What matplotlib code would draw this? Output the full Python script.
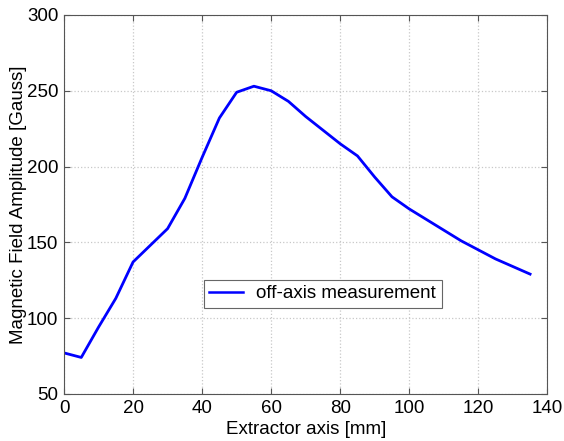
import matplotlib
matplotlib.use('Agg')
import matplotlib.pyplot as plt

# data
position_mm = [0, 5, 10, 15, 20, 25, 30, 35, 40, 45, 50, 55, 60, 65,
               70, 75, 80, 85, 90, 95, 100, 105, 110, 115, 120, 125, 130, 135]
field_gauss = [77, 74, 94, 113, 137, 148, 159, 179, 206, 232, 249, 253, 250, 243,
               233, 224, 215, 207, 193, 180, 172, 165, 158, 151, 145, 139, 134, 129]
x_ticks = [0, 20, 40, 60, 80, 100, 120, 140]
y_ticks = [50, 100, 150, 200, 250, 300]

plt.rcParams['font.family'] = ['Liberation Sans', 'DejaVu Sans']

fig = plt.figure(figsize=(5.64, 4.41), dpi=100)
ax = fig.add_axes([0.1135, 0.107, 0.857, 0.859])

ax.plot(position_mm, field_gauss, color='#0000ff', linewidth=2,
        label='off-axis measurement')

ax.set_xlim(0, 140)
ax.set_ylim(50, 300)
ax.set_xticks(x_ticks)
ax.set_yticks(y_ticks)
ax.grid(True, linestyle=':', color='#c8c8c8', linewidth=0.9)
ax.tick_params(direction='in', top=True, right=True, labelsize=13.5, length=4,
               color='#555555')
ax.tick_params(axis='x', pad=4.5)
ax.tick_params(axis='y', pad=4)
for s in ax.spines.values():
    s.set_color('#555555')

ax.set_xlabel('Extractor axis [mm]', fontsize=13.5, labelpad=2.5)
ax.set_ylabel('Magnetic Field Amplitude [Gauss]', fontsize=13.5, labelpad=0)

leg = ax.legend(loc='center', bbox_to_anchor=(0.535, 0.264), fontsize=13.5,
                fancybox=False, framealpha=1, edgecolor='#666666',
                handlelength=1.8, handletextpad=0.7, borderpad=0.3,
                borderaxespad=0)
leg.get_frame().set_linewidth(0.8)
leg.get_lines()[0].set_linewidth(1.8)

fig.savefig('out.png', dpi=100)
